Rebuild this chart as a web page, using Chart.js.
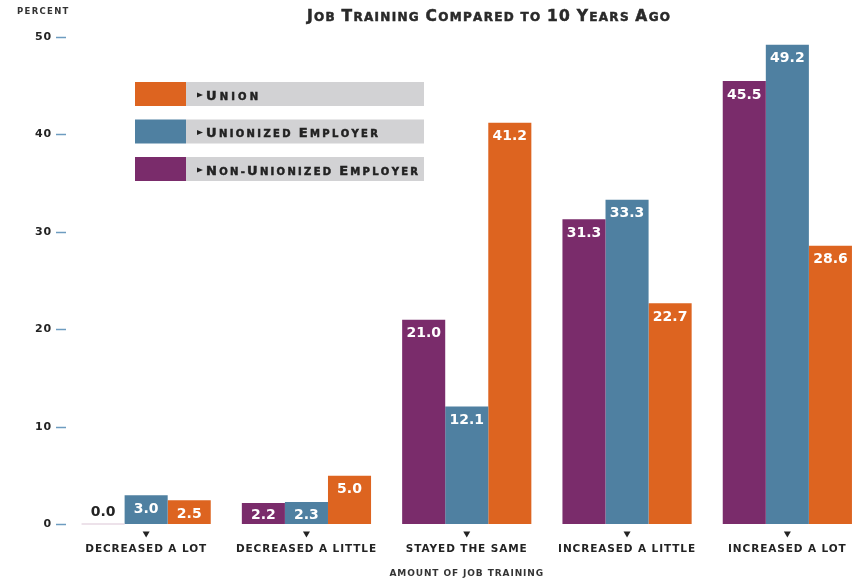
<!DOCTYPE html>
<html>
<head>
<meta charset="utf-8">
<script src="https://cdn.jsdelivr.net/npm/chart.js@4.4.1/dist/chart.umd.min.js"></script>
<style>
  html, body { margin: 0; padding: 0; background: #fff; overflow: hidden; }
  #wrap { position: relative; width: 870px; height: 582px; }
</style>
</head>
<body>
<div id="wrap"><canvas id="chart"></canvas></div>
<script>
// data
var categories   = ['DECREASED A LOT', 'DECREASED A LITTLE', 'STAYED THE SAME', 'INCREASED A LITTLE', 'INCREASED A LOT']
var nonUnionized = [0.0, 2.2, 21.0, 31.3, 45.5]
var unionizedEmp = [3.0, 2.3, 12.1, 33.3, 49.2]
var unionVals    = [2.5, 5.0, 41.2, 22.7, 28.6]
var yTicks       = [0, 10, 20, 30, 40, 50]
var seriesNames  = ['Non-Unionized Employer', 'Unionized Employer', 'Union']
var titleText    = 'Job Training Compared to 10 Years Ago'
var xTitle       = 'AMOUNT OF JOB TRAINING'
var yTitle       = 'PERCENT'

var PURPLE = '#7a2c6b', BLUE = '#4f80a1', ORANGE = '#dd6420'
var TEXT = '#232323'
var FAMILY = '"DejaVu Sans", sans-serif'

// draw small caps text, spreading letters to a given width
function drawCaps(ctx, text, x, y, big, small, width, align) {
	var parts = []
	for (var i = 0; i < text.length; i++) {
		var ch = text[i]
		var isBig = ch !== ch.toLowerCase() || /[0-9]/.test(ch)
		parts.push({ ch: ch.toUpperCase(), size: isBig ? big : small })
	}
	ctx.letterSpacing = '0px'
	ctx.textAlign = 'left'
	ctx.textBaseline = 'alphabetic'
	ctx.strokeStyle = ctx.fillStyle
	ctx.lineWidth = 0.5
	var w = 0
	parts.forEach(function (p) {
		ctx.font = 'bold ' + p.size + 'px ' + FAMILY
		p.w = ctx.measureText(p.ch).width
		w += p.w
	})
	var gap = width ? (width - w) / (parts.length - 1) : 0
	var total = w + gap * (parts.length - 1)
	var cx = align === 'center' ? x - total / 2 : x
	parts.forEach(function (p) {
		ctx.font = 'bold ' + p.size + 'px ' + FAMILY
		ctx.fillText(p.ch, cx, y)
		ctx.strokeText(p.ch, cx, y)
		cx += p.w + gap
	})
}

var spacingPlugin = {
	id: 'spacing',
	beforeDraw: function (chart) { chart.ctx.letterSpacing = '0.9px' },
	beforeDatasetsDraw: function (chart) { chart.ctx.letterSpacing = '0px' }
}

var valueLabels = {
	id: 'valueLabels',
	afterDatasetsDraw: function (chart) {
		var ctx = chart.ctx
		ctx.save()
		ctx.letterSpacing = '0px'
		ctx.font = 'bold 14px ' + FAMILY
		ctx.textAlign = 'center'
		ctx.textBaseline = 'middle'
		chart.data.datasets.forEach(function (ds, di) {
			chart.getDatasetMeta(di).data.forEach(function (bar, i) {
				var v = ds.data[i]
				if (v === 0) {
					ctx.fillStyle = TEXT
					ctx.fillText(v.toFixed(1), bar.x, bar.base - 12)
					ctx.fillStyle = '#dcc6d6'
					ctx.fillRect(bar.x - bar.width / 2, bar.base - 1, bar.width, 1)
				} else {
					ctx.fillStyle = '#fff'
					ctx.fillText(v.toFixed(1), bar.x, Math.min(bar.y + 14, bar.base - 9))
				}
			})
		})
		ctx.restore()
	}
}

var decorations = {
	id: 'decorations',
	afterDraw: function (chart) {
		var ctx = chart.ctx
		var x = chart.scales.x
		ctx.save()
		ctx.fillStyle = TEXT
		// small arrows under each category
		categories.forEach(function (c, i) {
			var px = x.getPixelForTick(i)
			ctx.beginPath()
			ctx.moveTo(px - 3.5, 531.5)
			ctx.lineTo(px + 3.5, 531.5)
			ctx.lineTo(px, 537.5)
			ctx.closePath()
			ctx.fill()
		})
		// axis unit at the top left
		ctx.font = 'bold 8.5px ' + FAMILY
		ctx.letterSpacing = '1.3px'
		ctx.fillStyle = '#333'
		ctx.textAlign = 'left'
		ctx.textBaseline = 'middle'
		ctx.fillText(yTitle, 17, 12)

		// title
		ctx.fillStyle = '#2a2a2a'
		drawCaps(ctx, titleText, 488.5, 21, 15.5, 12, 363, 'center')

		// legend: reverse dataset order
		var widths = [52, 172, 212]
		var ds = chart.data.datasets.slice().reverse()
		ds.forEach(function (d, i) {
			var top = 82 + i * 37.5
			ctx.fillStyle = d.backgroundColor
			ctx.fillRect(135, top, 51, 24)
			ctx.fillStyle = '#d2d2d4'
			ctx.fillRect(186, top, 238, 24)
			ctx.fillStyle = '#222'
			var base = top + 17.5
			ctx.beginPath()
			ctx.moveTo(197, base - 7)
			ctx.lineTo(203, base - 4.5)
			ctx.lineTo(197, base - 2)
			ctx.closePath()
			ctx.fill()
			drawCaps(ctx, d.label, 206, base, 13, 10, widths[i], 'left')
		})
		ctx.restore()
	}
}

new Chart(document.getElementById('chart'), {
	type: 'bar',
	data: {
		labels: categories,
		datasets: [
			{ label: seriesNames[0], data: nonUnionized, backgroundColor: PURPLE },
			{ label: seriesNames[1], data: unionizedEmp, backgroundColor: BLUE },
			{ label: seriesNames[2], data: unionVals, backgroundColor: ORANGE }
		]
	},
	options: {
		responsive: true,
		maintainAspectRatio: false,
		animation: false,
		layout: { padding: { top: 37, right: 2.5, left: 0, bottom: 0 } },
		datasets: { bar: { categoryPercentage: 0.806, barPercentage: 1 } },
		plugins: { legend: { display: false }, tooltip: { enabled: false } },
		scales: {
			x: {
				offset: true,
				grid: { display: false },
				border: { display: false },
				ticks: { color: TEXT, font: { family: FAMILY, size: 10.5, weight: 'bold' }, padding: 10, maxRotation: 0 },
				title: { display: true, text: xTitle, color: '#333', font: { family: FAMILY, size: 9, weight: 'bold' }, padding: { top: 4, bottom: 3 } },
				afterFit: function (s) { s.height = 57.5 }
			},
			y: {
				min: 0,
				max: 50,
				afterBuildTicks: function (s) { s.ticks = yTicks.map(function (v) { return { value: v } }) },
				grid: { drawOnChartArea: false, drawTicks: true, tickLength: 10, tickColor: '#6d9cc0', tickWidth: 1.5 },
				border: { display: false },
				ticks: { color: TEXT, font: { family: FAMILY, size: 11, weight: 'bold' }, padding: 4 },
				afterFit: function (s) { s.width = 66 }
			}
		}
	},
	plugins: [spacingPlugin, valueLabels, decorations]
})
</script>
</body>
</html>
